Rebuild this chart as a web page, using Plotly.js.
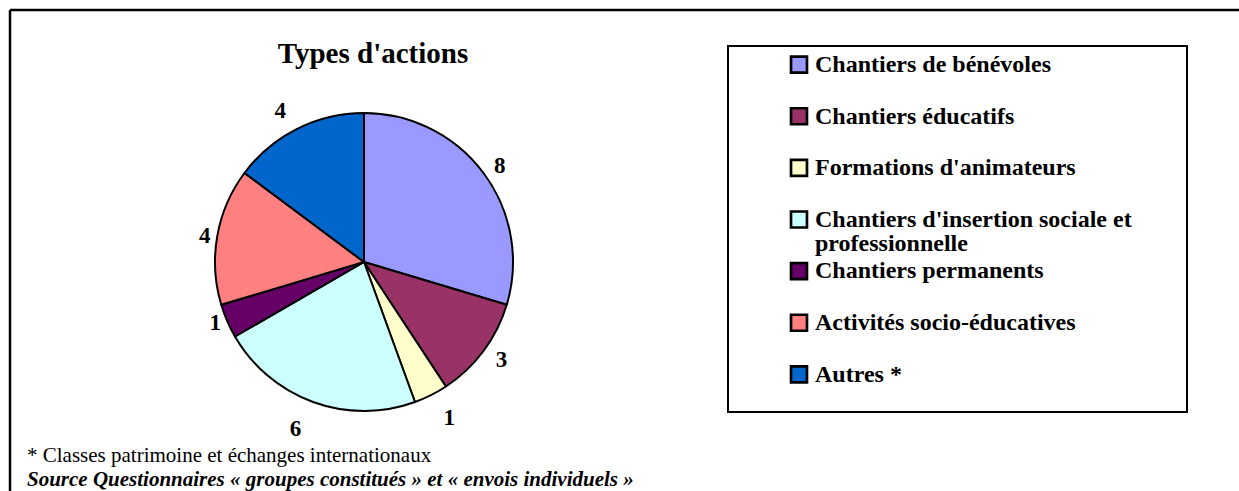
<!DOCTYPE html>
<html>
<head>
<meta charset="utf-8">
<script src="https://cdn.plot.ly/plotly-3.0.1.min.js"></script>
<style>
html,body{margin:0;padding:0;background:#fff;}
#chart{width:1239px;height:491px;}
#chart .legend path.legendpie{transform:translate(24px,0px) scale(1.33);}
</style>
</head>
<body>
<div id="chart"></div>
<script>
const categories = ["Chantiers de bénévoles", "Chantiers éducatifs", "Formations d'animateurs",
  "Chantiers d'insertion sociale et professionnelle", "Chantiers permanents",
  "Activités socio-éducatives", "Autres *"];
const legendLines = [["Chantiers de bénévoles"], ["Chantiers éducatifs"], ["Formations d'animateurs"],
  ["Chantiers d'insertion sociale et", "professionnelle"], ["Chantiers permanents"],
  ["Activités socio-éducatives"], ["Autres *"]];
const values = [8, 3, 1, 6, 1, 4, 4];
const colors = ["#9999FF", "#993366", "#FFFFCC", "#CCFFFF", "#660066", "#FF8080", "#0066CC"];
const titleText = "Types d'actions";
const footnote = "* Classes patrimoine et échanges internationaux";
const sourceText = "Source Questionnaires « groupes constitués » et « envois individuels »";

// style: extra radial offset (fraction of radius) for each outside value label
const labelOffset = [0.035, 0.05, 0.095, 0.11, 0, 0, 0.065];

const W = 1239, H = 491;
const serif = "Liberation Serif, Times New Roman, serif";
const px = v => v / W, py = v => 1 - v / H;

const labels = legendLines.map(lines => {
  const spans = lines.map(l => '<span style="font-size:24px">' + l + '</span>');
  if (spans.length === 1) spans.push('&nbsp;');
  return spans.join('<br>');
});

const cx = 364, cy = 262, r = 149;
const maxOff = Math.max(...labelOffset);
const r2 = r * (1 + maxOff);

// invisible twin pie that only carries the outside value labels
const labelTrace = {
  type: 'pie',
  labels: categories,
  values: values,
  sort: false,
  direction: 'clockwise',
  rotation: 0,
  pull: labelOffset,
  marker: {colors: colors.map(() => 'rgba(0,0,0,0)'), line: {width: 0}},
  textinfo: 'value',
  textposition: 'outside',
  outsidetextfont: {family: serif, size: 23, color: '#000', weight: 'bold'},
  hoverinfo: 'none',
  showlegend: false,
  domain: {x: [px(cx - r2), px(cx + r2)], y: [py(cy + r2), py(cy - r2)]}
};

const trace = {
  type: 'pie',
  labels: labels,
  values: values,
  sort: false,
  direction: 'clockwise',
  rotation: 0,
  marker: {colors: colors, line: {color: '#000', width: 2}},
  textinfo: 'none',
  hoverinfo: 'none',
  domain: {x: [px(cx - r), px(cx + r)], y: [py(cy + r), py(cy - r)]}
};

const layout = {
  width: W, height: H,
  margin: {l: 0, r: 0, t: 0, b: 0},
  paper_bgcolor: '#fff',
  font: {family: serif, color: '#000'},
  title: {text: titleText, font: {family: serif, size: 29, weight: 'bold', color: '#000'},
          x: px(373), xref: 'paper', xanchor: 'center', y: py(53), yref: 'paper', yanchor: 'middle'},
  showlegend: true,
  legend: {x: px(775), xanchor: 'left', y: py(46), yanchor: 'top', valign: 'top',
           bgcolor: 'rgba(0,0,0,0)', borderwidth: 0,
           font: {family: serif, size: 18.7, weight: 'bold', color: '#000'}},
  shapes: [
    {type: 'line', xref: 'paper', yref: 'paper', x0: px(10), x1: 1.01, y0: py(10), y1: py(10), line: {color: '#000', width: 2.5}},
    {type: 'line', xref: 'paper', yref: 'paper', x0: px(10), x1: px(10), y0: py(10), y1: -0.01, line: {color: '#000', width: 2.5}},
    {type: 'rect', xref: 'paper', yref: 'paper', x0: px(728), x1: px(1187), y0: py(46), y1: py(412), line: {color: '#000', width: 2}}
  ],
  annotations: [
    {text: footnote, xref: 'paper', yref: 'paper', x: px(25), xanchor: 'left', y: py(455), yanchor: 'middle',
     showarrow: false, font: {family: serif, size: 21, color: '#000'}},
    {text: '<b><i>' + sourceText + '</i></b>', xref: 'paper', yref: 'paper', x: px(25), xanchor: 'left', y: py(479), yanchor: 'middle',
     showarrow: false, font: {family: serif, size: 21, color: '#000'}}
  ]
};

Plotly.newPlot('chart', [labelTrace, trace], layout, {displayModeBar: false, staticPlot: true});
</script>
</body>
</html>
